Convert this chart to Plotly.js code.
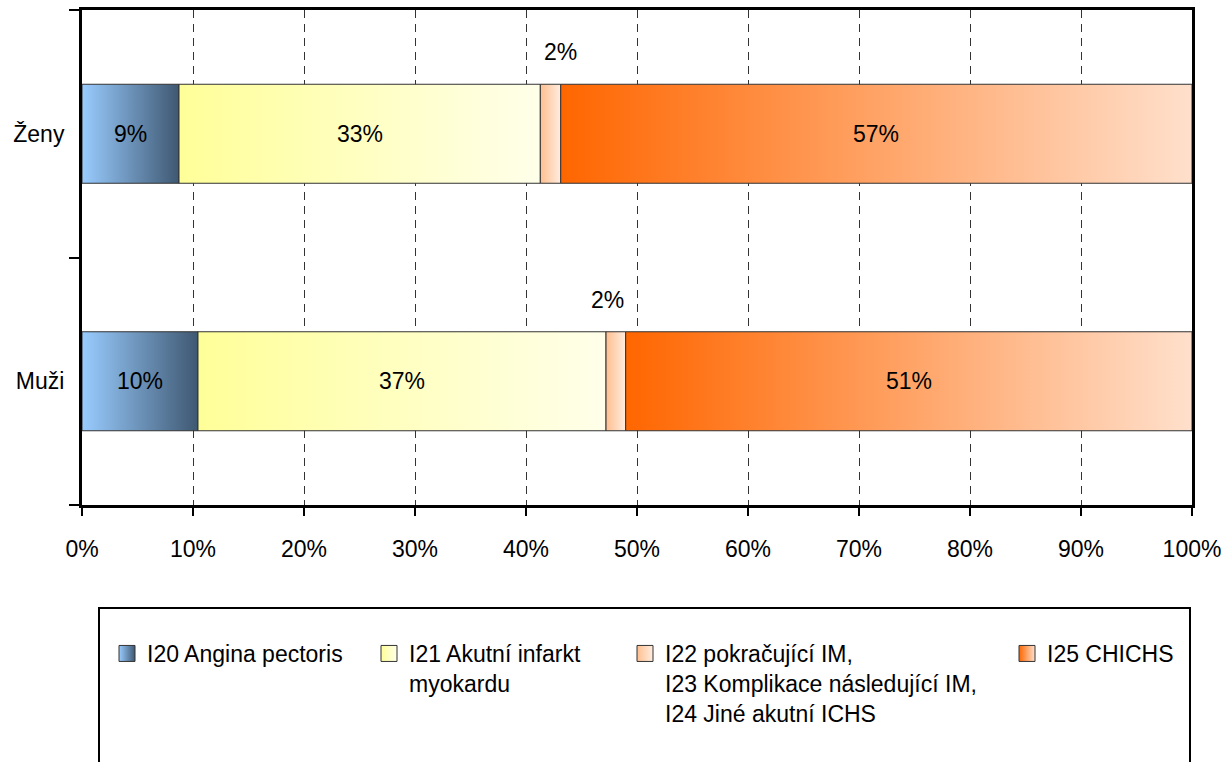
<!DOCTYPE html>
<html>
<head>
<meta charset="utf-8">
<script src="https://cdn.plot.ly/plotly-3.0.1.min.js"></script>
<style>html,body{margin:0;padding:0;background:#fff;}</style>
</head>
<body>
<div id="chart" style="width:1224px;height:762px;"></div>
<script>
// ---- data ----
const categories = ['Muži', 'Ženy'];
const seriesNames = [
  'I20 Angina pectoris',
  'I21 Akutní infarkt<br>myokardu',
  'I22 pokračující IM,<br>I23 Komplikace následující IM,<br>I24 Jiné akutní ICHS',
  'I25 CHICHS'
];
const i20 = [10.45, 8.74];
const i21 = [36.76, 32.55];
const i22 = [1.77, 1.84];
const i25 = [51.02, 56.87];
const xTickVals = [0, 10, 20, 30, 40, 50, 60, 70, 80, 90, 100];
const xTickText = ['0%', '10%', '20%', '30%', '40%', '50%', '60%', '70%', '80%', '90%', '100%'];

// ---- styles ----
const FONT = "'Liberation Sans', Arial, sans-serif";
const FS = 23;
const gradients = [
  ['#99CCFF', '#3F5872'],
  ['#FFFF99', '#FFFFEA'],
  ['#FFBF8F', '#FFEDE0'],
  ['#FF6600', '#FFE0CC']
];
const series = [i20, i21, i22, i25];
const HALF = 0.2;
const W = 1224, H = 762, ML = 82, MR = 32, MT = 10, MB = 257;
const PW = W - ML - MR, PH = H - MT - MB;
const px2x = p => (p - ML) / PW;
const px2y = p => (H - MB - p) / PH;
// small above-bar label horizontal nudges (pixels), per category
const smallShift = [-8, 10];
const legendX = [107, 369, 625, 1007];

const traces = [];
const annotations = [];
categories.forEach((cat, ci) => {
  let start = 0;
  series.forEach((vals, si) => {
    const v = vals[ci];
    const end = start + v;
    const yc = ci + 0.5;
    traces.push({
      type: 'scatter', mode: 'lines',
      x: [start, end, end, start, start],
      y: [yc - HALF, yc - HALF, yc + HALF, yc + HALF, yc - HALF],
      fill: 'toself',
      fillgradient: { type: 'horizontal', start: start, stop: end,
        colorscale: [[0, gradients[si][0]], [1, gradients[si][1]]] },
      line: { color: '#333333', width: 1 },
      showlegend: false, hoverinfo: 'skip'
    });
    const small = v < 5;
    annotations.push({
      x: start + v / 2, y: small ? yc + HALF : yc,
      xref: 'x', yref: 'y',
      text: Math.round(v) + '%', showarrow: false,
      yshift: small ? 32 : 0, xshift: small ? smallShift[ci] : 0,
      font: { family: FONT, size: FS, color: '#000' }
    });
    start = end;
  });
});

const layout = {
  width: W, height: H,
  margin: { l: ML, r: MR, t: MT, b: MB, pad: 0, autoexpand: false },
  paper_bgcolor: '#fff', plot_bgcolor: '#fff',
  font: { family: FONT, size: FS, color: '#000' },
  xaxis: {
    range: [0, 100], tickmode: 'array', tickvals: xTickVals, ticktext: xTickText,
    ticks: 'outside', ticklen: 8, tickwidth: 2, tickcolor: '#000',
    showline: true, linewidth: 3, linecolor: '#000', mirror: true,
    showgrid: true, gridcolor: '#333', gridwidth: 1, griddash: '8px,6px',
    zeroline: false, ticklabelstandoff: 13, fixedrange: true
  },
  yaxis: {
    range: [0, 2], tickmode: 'array', tickvals: [0.5, 1.5], ticktext: categories,
    ticks: '', showline: true, linewidth: 3, linecolor: '#000', mirror: true,
    showgrid: false, zeroline: false, ticklabelstandoff: 10,
    minor: { tickmode: 'array', tickvals: [0, 1, 2], ticks: 'outside', ticklen: 10, tickwidth: 2, tickcolor: '#000' },
    fixedrange: true
  },
  annotations: annotations,
  shapes: [{
    type: 'rect', xref: 'paper', yref: 'paper',
    x0: px2x(99), x1: px2x(1190), y0: px2y(608), y1: px2y(820),
    line: { color: '#000', width: 2 }, fillcolor: 'rgba(0,0,0,0)', layer: 'above'
  }]
};

seriesNames.forEach((name, si) => {
  const lg = si === 0 ? 'legend' : 'legend' + (si + 1);
  traces.push({
    type: 'scatter', mode: 'markers', x: [null], y: [null], name: name,
    legend: lg, hoverinfo: 'skip',
    marker: { symbol: 'square', size: 16, color: gradients[si][0],
      gradient: { type: 'horizontal', color: gradients[si][1] },
      line: { color: '#333', width: 1 } }
  });
  layout[lg] = {
    x: px2x(legendX[si]), y: px2y(632), xanchor: 'left', yanchor: 'top',
    bgcolor: 'rgba(0,0,0,0)', borderwidth: 0, valign: 'top',
    font: { family: FONT, size: FS, color: '#000' }, itemclick: false, itemdoubleclick: false
  };
});

Plotly.newPlot('chart', traces, layout, { displayModeBar: false, staticPlot: true });
</script>
</body>
</html>
